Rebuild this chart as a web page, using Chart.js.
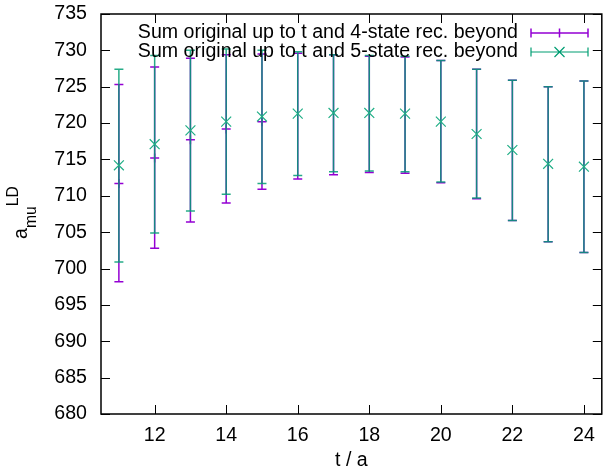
<!DOCTYPE html>
<html>
<head>
<meta charset="utf-8">
<script src="https://cdn.jsdelivr.net/npm/chart.js@4.4.0/dist/chart.umd.min.js"></script>
<style>
  html, body { margin: 0; padding: 0; background: #fff; }
  #wrap { width: 610px; height: 470px; }
</style>
</head>
<body>
<div id="wrap"><canvas id="chAmu"></canvas></div>
<script>
// data
var tValues = [11, 12, 13, 14, 15, 16, 17, 18, 19, 20, 21, 22, 23, 24];

// sum original up to t and 4-state rec. beyond
var amu4 = [711.7, 715.2, 717.7, 719.2, 720.2, 720.9, 721.1, 721.2, 721.1, 720.2, 718.5, 716.3, 714.4, 714.0];
var amu4Lo = [698.2, 702.8, 706.4, 709.0, 710.9, 712.3, 712.9, 713.2, 713.1, 711.8, 709.6, 706.6, 703.7, 702.2];
var amu4Hi = [725.3, 727.7, 728.9, 729.4, 729.5, 729.6, 729.4, 729.2, 729.1, 728.6, 727.4, 725.9, 725.0, 725.8];

// sum original up to t and 5-state rec. beyond
var amu5 = [714.2, 717.1, 719.0, 720.2, 720.9, 721.3, 721.4, 721.4, 721.3, 720.2, 718.5, 716.3, 714.4, 714.0];
var amu5Lo = [700.9, 704.9, 707.9, 710.2, 711.7, 712.8, 713.3, 713.4, 713.3, 711.9, 709.7, 706.6, 703.7, 702.2];
var amu5Hi = [727.4, 729.3, 730.0, 730.2, 730.0, 729.8, 729.4, 729.3, 729.2, 728.6, 727.4, 725.9, 725.0, 725.8];

var xTicks = [12, 14, 16, 18, 20, 22, 24];
var yTicks = [680, 685, 690, 695, 700, 705, 710, 715, 720, 725, 730, 735];

var labels = ["Sum original up to t and 4-state rec. beyond", "Sum original up to t and 5-state rec. beyond"];
var colors = ["#9400d3", "#009e73"];
var fontFam = "'Liberation Sans', Arial, sans-serif";
var fontSize = 19.6;

function points(ys) {
  return tValues.map(function (t, i) { return { x: t, y: ys[i] }; });
}

// error bars, drawn under each dataset's own points
var errorBars = {
  id: "errorBars",
  beforeDatasetDraw: function (chart, args) {
    var ds = chart.data.datasets[args.index];
    var ctx = chart.ctx, xs = chart.scales.x, ys = chart.scales.y;
    ctx.save();
    ctx.strokeStyle = ds.barColor;
    ctx.lineWidth = 1.5;
    ds.lo.forEach(function (lo, i) {
      var x = xs.getPixelForValue(ds.data[i].x);
      var y1 = ys.getPixelForValue(lo);
      var y2 = ys.getPixelForValue(ds.hi[i]);
      ctx.beginPath();
      ctx.moveTo(x, y1); ctx.lineTo(x, y2);
      ctx.moveTo(x - 4.5, y1); ctx.lineTo(x + 4.5, y1);
      ctx.moveTo(x - 4.5, y2); ctx.lineTo(x + 4.5, y2);
      ctx.stroke();
    });
    ctx.restore();
  }
};

// gnuplot-like frame: border, inward ticks, y title, key
var frame = {
  id: "frame",
  afterDraw: function (chart) {
    var ctx = chart.ctx, a = chart.chartArea;
    var xs = chart.scales.x, ys = chart.scales.y;
    ctx.save();
    ctx.strokeStyle = "#000";
    ctx.lineWidth = 1.5;
    ctx.strokeRect(a.left, a.top, a.right - a.left, a.bottom - a.top);
    ctx.lineWidth = 1;
    ctx.beginPath();
    xTicks.forEach(function (v) {
      var x = Math.round(xs.getPixelForValue(v)) + 0.5;
      ctx.moveTo(x, a.bottom); ctx.lineTo(x, a.bottom - 9);
      ctx.moveTo(x, a.top); ctx.lineTo(x, a.top + 9);
    });
    yTicks.forEach(function (v) {
      var y = Math.round(ys.getPixelForValue(v)) + 0.5;
      ctx.moveTo(a.left, y); ctx.lineTo(a.left + 9, y);
      ctx.moveTo(a.right, y); ctx.lineTo(a.right - 9, y);
    });
    ctx.stroke();

    // y title a_mu^LD
    ctx.fillStyle = "#000";
    ctx.translate(27, 239);
    ctx.rotate(-Math.PI / 2);
    ctx.textBaseline = "alphabetic";
    ctx.textAlign = "left";
    ctx.font = fontSize + "px " + fontFam;
    ctx.fillText("a", 0, 0);
    var w = ctx.measureText("a").width;
    ctx.font = (fontSize * 0.8) + "px " + fontFam;
    ctx.fillText("mu", w, 9);
    var w2 = ctx.measureText("mu").width;
    ctx.fillText("LD", w + w2, -9);
    ctx.setTransform(1, 0, 0, 1, 0, 0);

    // key
    ctx.font = fontSize + "px " + fontFam;
    ctx.textAlign = "right";
    ctx.textBaseline = "middle";
    chart.data.datasets.forEach(function (ds, i) {
      var y = 33 + 19 * i;
      ctx.fillStyle = "#000";
      ctx.fillText(labels[i], 518, y);
      ctx.strokeStyle = colors[i];
      ctx.lineWidth = 1.5;
      ctx.beginPath();
      ctx.moveTo(531, y); ctx.lineTo(588, y);
      ctx.moveTo(531, y - 4.5); ctx.lineTo(531, y + 4.5);
      ctx.moveTo(588, y - 4.5); ctx.lineTo(588, y + 4.5);
      if (i === 0) {
        ctx.moveTo(559.5, y - 4.5); ctx.lineTo(559.5, y + 4.5);
      } else {
        ctx.lineWidth = 1.2;
        ctx.moveTo(554.5, y - 5); ctx.lineTo(564.5, y + 5);
        ctx.moveTo(554.5, y + 5); ctx.lineTo(564.5, y - 5);
      }
      ctx.stroke();
    });
    ctx.restore();
  }
};

// the 4-state "+" disappears where it sits under the 5-state cross
function plusRadius(c) {
  var i = c.dataIndex;
  if (i === undefined) return 4.5;
  return Math.abs(amu4[i] - amu5[i]) < 0.5 ? 0 : 4.5;
}

new Chart(document.getElementById("chAmu"), {
  type: "scatter",
  data: {
    datasets: [
      {
        label: labels[0],
        data: points(amu4),
        lo: amu4Lo,
        hi: amu4Hi,
        barColor: colors[0],
        order: 2,
        pointStyle: "cross",
        pointRadius: plusRadius,
        borderColor: colors[0],
        borderWidth: 1.5,
        backgroundColor: colors[0]
      },
      {
        label: labels[1],
        data: points(amu5),
        lo: amu5Lo,
        hi: amu5Hi,
        barColor: "rgba(0,158,115,0.85)",
        order: 1,
        pointStyle: "crossRot",
        pointRadius: 7,
        borderColor: "#1fae85",
        borderWidth: 1.2,
        backgroundColor: colors[1]
      }
    ]
  },
  options: {
    responsive: true,
    maintainAspectRatio: false,
    animation: false,
    layout: { padding: { top: 14, right: -2, left: 0, bottom: 0 } },
    plugins: {
      legend: { display: false },
      tooltip: { enabled: false }
    },
    scales: {
      x: {
        type: "linear",
        min: 10.5,
        max: 24.5,
        grid: { display: false, drawTicks: false },
        border: { display: false },
        afterBuildTicks: function (s) { s.ticks = xTicks.map(function (v) { return { value: v }; }); },
        afterFit: function (s) { s.height = 56; s.paddingLeft = 0; s.paddingRight = 0; },
        ticks: { padding: 10, color: "#000", maxRotation: 0, font: { family: fontFam, size: fontSize } },
        title: { display: true, text: "t / a", color: "#000", padding: { top: 0, bottom: -2 }, font: { family: fontFam, size: fontSize } }
      },
      y: {
        min: 680,
        max: 735,
        grid: { display: false, drawTicks: false },
        border: { display: false },
        afterBuildTicks: function (s) { s.ticks = yTicks.map(function (v) { return { value: v }; }); },
        afterFit: function (s) { s.width = 101; s.paddingTop = 0; s.paddingBottom = 0; },
        ticks: { padding: 14, color: "#000", font: { family: fontFam, size: fontSize } }
      }
    }
  },
  plugins: [errorBars, frame]
});
</script>
</body>
</html>
